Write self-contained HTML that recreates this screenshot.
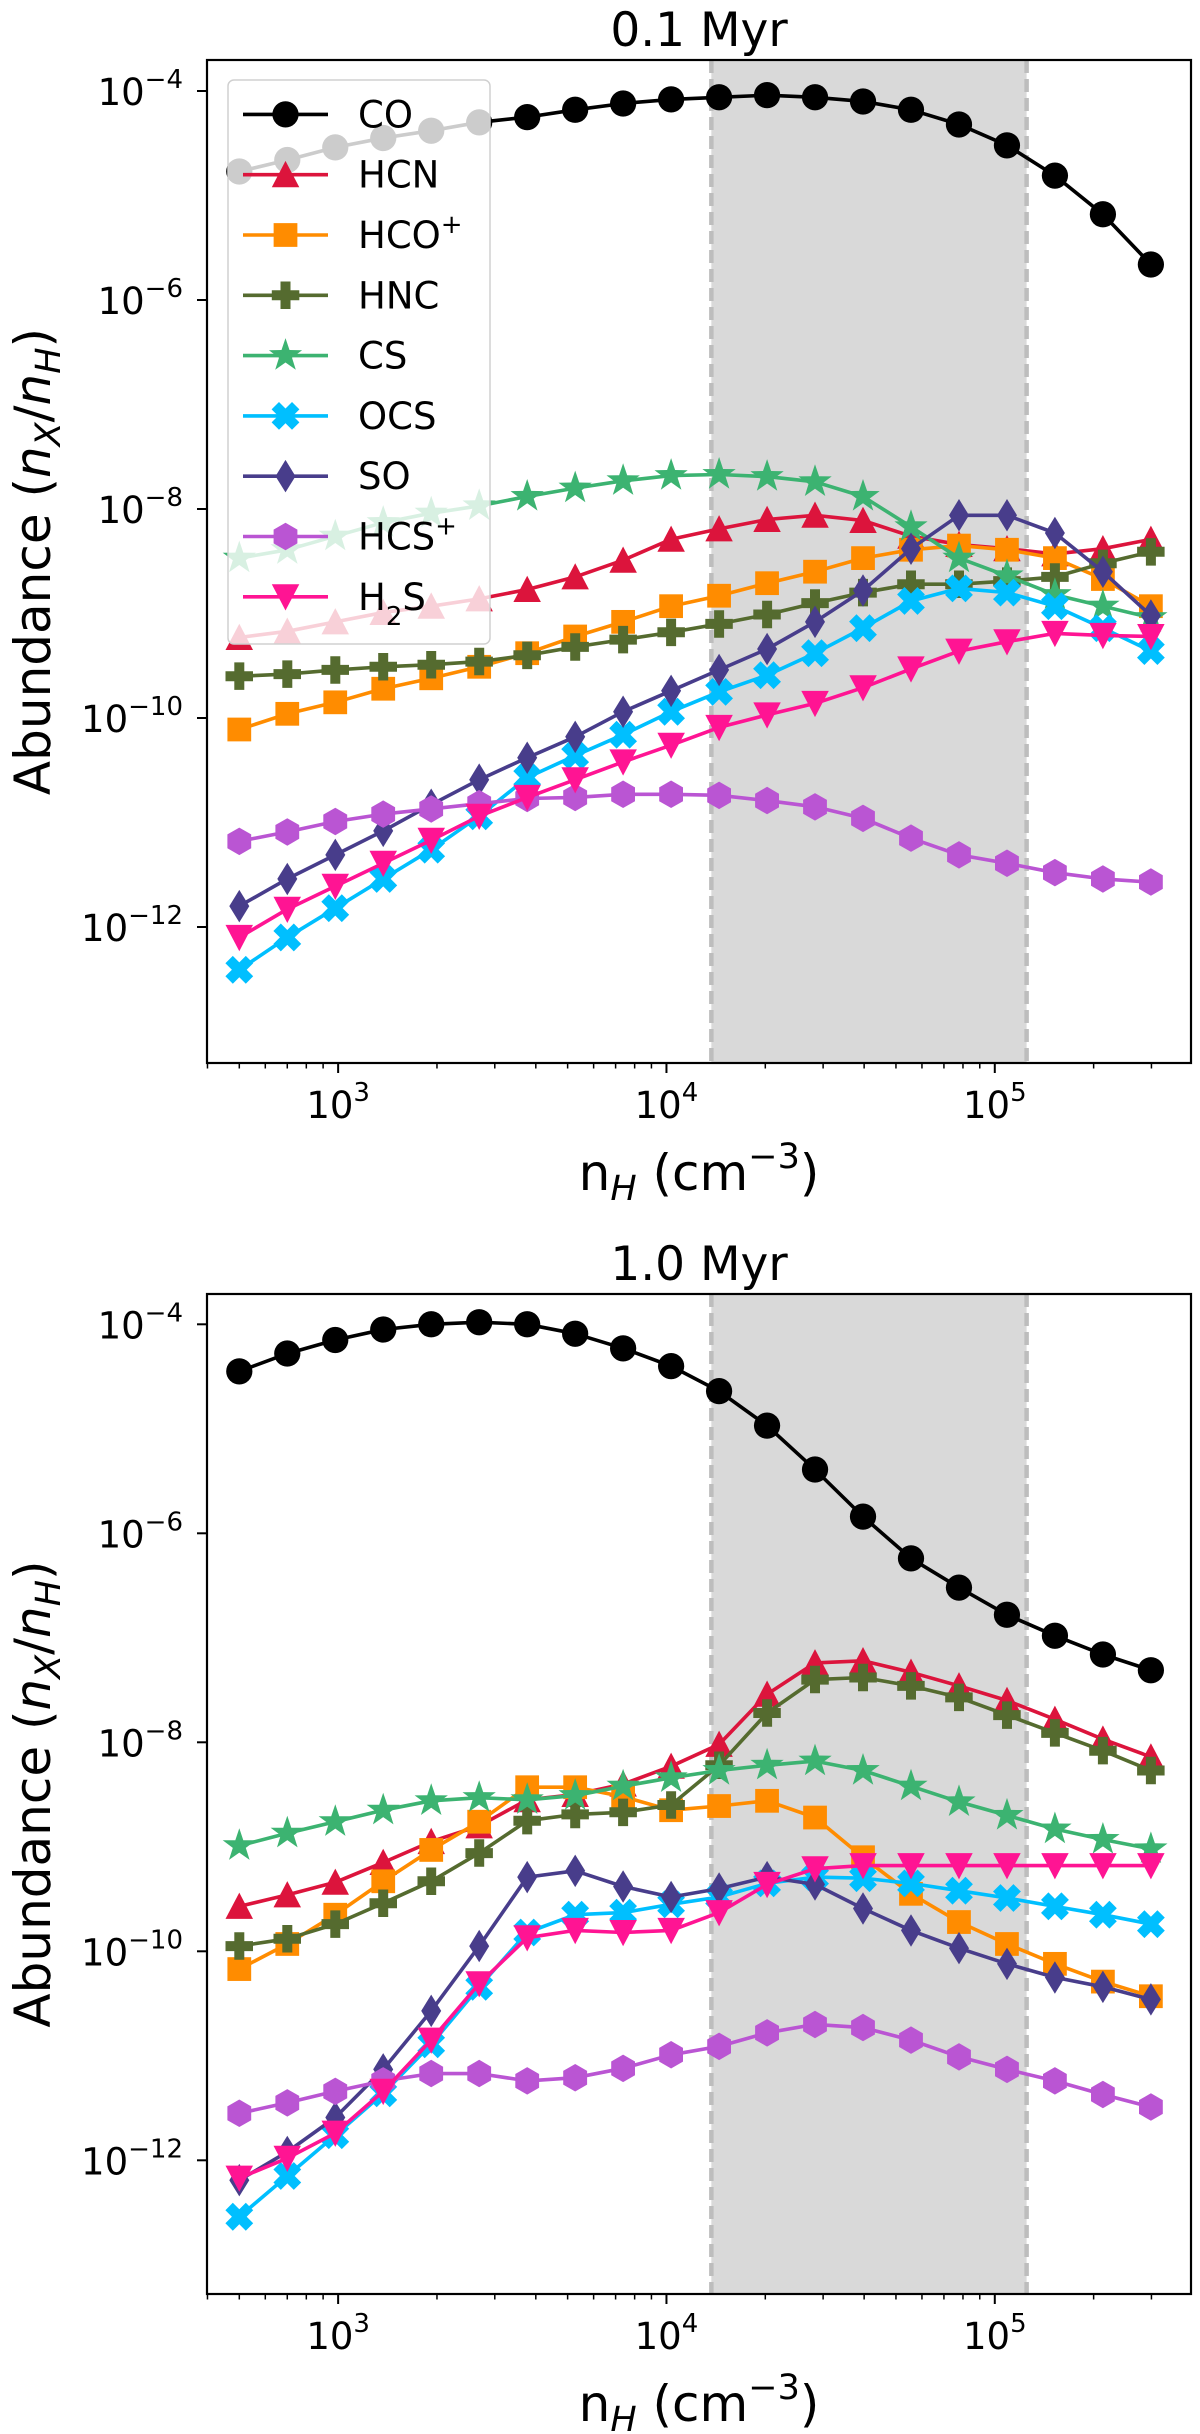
<!DOCTYPE html>
<html><head><meta charset="utf-8"><style>
html,body{margin:0;padding:0;background:#fff}
svg{display:block;font-family:"DejaVu Sans","Liberation Sans",sans-serif}
</style></head><body>
<svg id="fig" width="1200" height="2434" viewBox="0 0 1200 2434" xmlns="http://www.w3.org/2000/svg"></svg>
<script>
// ---- data ----
const nH = [500,700,980,1372,1921,2689,3765,5271,7379,10331,14463,20248,28348,39687,55562,77787,108902,152463,213448,298827];
const shadeRange = [13700,125000];
const yTicksExp = [-4,-6,-8,-10,-12];
const xTicksExp = [3,4,5];
const titles = ["0.1 Myr","1.0 Myr"];
const species = ["CO","HCN","HCO+","HNC","CS","OCS","SO","HCS+","H2S"];
// log10 abundances, panel 1 (0.1 Myr)
const t1_CO  = [-4.77,-4.66,-4.54,-4.45,-4.38,-4.30,-4.25,-4.18,-4.12,-4.08,-4.06,-4.04,-4.06,-4.10,-4.18,-4.32,-4.52,-4.81,-5.18,-5.66];
const t1_HCN = [-9.23,-9.17,-9.08,-8.99,-8.93,-8.86,-8.77,-8.65,-8.49,-8.29,-8.19,-8.10,-8.06,-8.11,-8.26,-8.34,-8.38,-8.43,-8.38,-8.29];
const t1_HCOp= [-10.11,-9.96,-9.85,-9.72,-9.62,-9.51,-9.38,-9.22,-9.08,-8.93,-8.83,-8.71,-8.60,-8.47,-8.39,-8.35,-8.39,-8.47,-8.67,-8.93];
const t1_HNC = [-9.60,-9.58,-9.54,-9.51,-9.49,-9.46,-9.40,-9.32,-9.25,-9.18,-9.10,-9.01,-8.90,-8.80,-8.72,-8.72,-8.69,-8.65,-8.52,-8.41];
const t1_CS  = [-8.47,-8.39,-8.26,-8.13,-8.04,-7.97,-7.88,-7.80,-7.73,-7.68,-7.67,-7.69,-7.74,-7.88,-8.17,-8.47,-8.64,-8.82,-8.93,-9.04];
const t1_OCS = [-12.41,-12.10,-11.82,-11.54,-11.26,-10.94,-10.57,-10.36,-10.16,-9.94,-9.75,-9.59,-9.38,-9.14,-8.88,-8.76,-8.80,-8.93,-9.14,-9.36];
const t1_SO  = [-11.80,-11.54,-11.31,-11.08,-10.83,-10.59,-10.38,-10.18,-9.94,-9.74,-9.54,-9.34,-9.08,-8.78,-8.38,-8.06,-8.06,-8.23,-8.60,-9.02];
const t1_HCSp= [-11.18,-11.09,-10.99,-10.92,-10.87,-10.82,-10.77,-10.76,-10.73,-10.73,-10.74,-10.79,-10.85,-10.96,-11.15,-11.31,-11.39,-11.48,-11.54,-11.57];
const t1_H2S = [-12.10,-11.83,-11.61,-11.39,-11.17,-10.94,-10.76,-10.59,-10.42,-10.26,-10.09,-9.97,-9.86,-9.71,-9.53,-9.36,-9.27,-9.19,-9.21,-9.22];
// panel 2 (1.0 Myr)
const t2_CO  = [-4.45,-4.28,-4.15,-4.05,-4.00,-3.98,-4.00,-4.09,-4.23,-4.40,-4.64,-4.97,-5.39,-5.84,-6.24,-6.52,-6.78,-6.98,-7.16,-7.31];
const t2_HCN = [-9.57,-9.46,-9.34,-9.15,-8.95,-8.80,-8.55,-8.50,-8.40,-8.23,-8.02,-7.54,-7.24,-7.22,-7.33,-7.46,-7.60,-7.78,-7.97,-8.14];
const t2_HCOp= [-10.17,-9.93,-9.65,-9.33,-9.03,-8.76,-8.43,-8.43,-8.52,-8.65,-8.61,-8.56,-8.72,-9.10,-9.45,-9.72,-9.93,-10.12,-10.29,-10.43];
const t2_HNC = [-9.95,-9.88,-9.74,-9.54,-9.33,-9.06,-8.75,-8.69,-8.67,-8.60,-8.22,-7.72,-7.40,-7.38,-7.46,-7.57,-7.74,-7.91,-8.08,-8.27];
const t2_CS  = [-8.99,-8.87,-8.76,-8.65,-8.56,-8.53,-8.55,-8.51,-8.42,-8.34,-8.27,-8.22,-8.18,-8.27,-8.42,-8.57,-8.70,-8.83,-8.93,-9.02];
const t2_OCS = [-12.54,-12.15,-11.76,-11.36,-10.89,-10.34,-9.82,-9.65,-9.63,-9.55,-9.48,-9.35,-9.29,-9.30,-9.35,-9.42,-9.49,-9.57,-9.65,-9.74];
const t2_SO  = [-12.19,-11.92,-11.59,-11.13,-10.57,-9.95,-9.29,-9.23,-9.38,-9.48,-9.40,-9.29,-9.36,-9.59,-9.80,-9.97,-10.12,-10.25,-10.34,-10.46];
const t2_HCSp= [-11.55,-11.45,-11.34,-11.24,-11.17,-11.17,-11.24,-11.21,-11.12,-10.99,-10.91,-10.78,-10.70,-10.73,-10.85,-11.01,-11.13,-11.24,-11.37,-11.49];
const t2_H2S = [-12.17,-11.98,-11.74,-11.34,-10.85,-10.31,-9.87,-9.80,-9.82,-9.80,-9.63,-9.36,-9.21,-9.18,-9.18,-9.18,-9.18,-9.18,-9.18,-9.18];

const panel1 = [t1_CO,t1_HCN,t1_HCOp,t1_HNC,t1_CS,t1_OCS,t1_SO,t1_HCSp,t1_H2S];
const panel2 = [t2_CO,t2_HCN,t2_HCOp,t2_HNC,t2_CS,t2_OCS,t2_SO,t2_HCSp,t2_H2S];

const colors = ["#000000","#dc143c","#ff8c00","#556b2f","#3cb371","#00bfff","#483d8b","#ba55d3","#ff1493"];
const markers = ["o","^","s","P","*","X","d","h","v"];
const legendHTML = ["CO","HCN","HCO<tspan baseline-shift=\"super\" font-size=\"26\">+</tspan>","HNC","CS","OCS","SO","HCS<tspan baseline-shift=\"super\" font-size=\"26\">+</tspan>","H<tspan baseline-shift=\"sub\" font-size=\"26\">2</tspan>S"];

const NS="http://www.w3.org/2000/svg";
const svg=document.getElementById('fig');
const AX_L=207, AX_R=1191;
const XMIN=2.6006, XMAX=5.5976;
const MS=1.25;
function xs(v){return AX_L+(Math.log10(v)-XMIN)*(AX_R-AX_L)/(XMAX-XMIN);}
function el(tag,attrs,parent){const e=document.createElementNS(NS,tag);for(const k in attrs)e.setAttribute(k,attrs[k]);(parent||svg).appendChild(e);return e;}

function markerShape(m,cx,cy,color,parent){
  let e;
  const pts=a=>a.map(p=>(cx+p[0]*MS).toFixed(1)+","+(cy+p[1]*MS).toFixed(1)).join(" ");
  if(m==="o") e=el('circle',{cx:cx,cy:cy,r:10.5*MS,fill:color},parent);
  else if(m==="^") e=el('polygon',{points:pts([[0,-11],[-11,10],[11,10]]),fill:color},parent);
  else if(m==="v") e=el('polygon',{points:pts([[0,11],[-11,-10],[11,-10]]),fill:color},parent);
  else if(m==="s") e=el('rect',{x:cx-9.5*MS,y:cy-9.5*MS,width:19*MS,height:19*MS,fill:color},parent);
  else if(m==="d") e=el('polygon',{points:pts([[0,-13],[8,0],[0,13],[-8,0]]),fill:color},parent);
  else if(m==="P"||m==="X"){
    const a=11,b=4;
    let p=[[-b,-a],[b,-a],[b,-b],[a,-b],[a,b],[b,b],[b,a],[-b,a],[-b,b],[-a,b],[-a,-b],[-b,-b]];
    if(m==="X"){const c=Math.SQRT1_2;p=p.map(q=>[(q[0]-q[1])*c*1.05,(q[0]+q[1])*c*1.05]);}
    e=el('polygon',{points:pts(p),fill:color},parent);
  } else if(m==="*"){
    const p=[];for(let i=0;i<10;i++){const r=i%2?5.5:14;const t=-Math.PI/2+i*Math.PI/5;p.push([r*Math.cos(t),r*Math.sin(t)]);}
    e=el('polygon',{points:pts(p),fill:color},parent);
  } else if(m==="h"){
    const p=[];for(let i=0;i<6;i++){const t=-Math.PI/2+i*Math.PI/3;p.push([11*Math.cos(t),11*Math.sin(t)]);}
    e=el('polygon',{points:pts(p),fill:color},parent);
  }
  return e;
}

function drawPanel(idx, top, bottom, y4, data, withLegend){
  const DEC=104.5;
  const ys=l=>y4+(-4-l)*DEC;
  const g=el('g',{});
  
  
  const t=el('text',{x:(AX_L+AX_R)/2,y:top-14,'text-anchor':'middle','font-size':47,fill:'#000'},g);
  t.textContent=titles[idx];
  
  
  const x0=xs(shadeRange[0]), x1=xs(shadeRange[1]);
  const sh=el('rect',{x:x0,y:top,width:x1-x0,height:bottom-top,fill:'#d9d9d9'},g);
  
  
  [x0,x1].forEach(xx=>{
    const dl=el('line',{x1:xx,y1:top,x2:xx,y2:bottom,stroke:'#bdbdbd','stroke-width':4.5,'stroke-dasharray':'13,6'},g);
    
    
  });
  data.forEach((arr,si)=>{
    const sg=el('g',{},g);
    
    
    const d=arr.map((v,i)=>(i?'L':'M')+xs(nH[i]).toFixed(1)+','+ys(v).toFixed(1)).join(' ');
    const ln=el('path',{d:d,fill:'none',stroke:colors[si],'stroke-width':3.6,'stroke-linejoin':'round'},sg);
    
    
    arr.forEach((v,i)=>{
      const mk=markerShape(markers[si],xs(nH[i]),ys(v),colors[si],sg);
      
      
    });
  });
  const fr=el('rect',{x:AX_L,y:top,width:AX_R-AX_L,height:bottom-top,fill:'none',stroke:'#000','stroke-width':2.2},g);
  
  
  yTicksExp.forEach(e=>{
    const yy=ys(e);
    el('line',{x1:AX_L-10,y1:yy,x2:AX_L,y2:yy,stroke:'#000','stroke-width':2},g);
    const tx=el('text',{x:183,y:yy+14,'text-anchor':'end','font-size':37},g);
    tx.innerHTML='10<tspan dy="-17" font-size="26">\u2212'+Math.abs(e)+'</tspan>';
    
    
  });
  for(let k=2;k<=5;k++){for(let m=1;m<=9;m++){
    const v=m*Math.pow(10,k);const lx=Math.log10(v);
    if(lx<XMIN-1e-6||lx>XMAX)continue;
    const xx=xs(v);const L=m===1?10:5.5;
    el('line',{x1:xx,y1:bottom,x2:xx,y2:bottom+L,stroke:'#000','stroke-width':m===1?2:1.5},g);
  }}
  xTicksExp.forEach(e=>{
    const xx=xs(Math.pow(10,e));
    const tx=el('text',{x:xx,y:bottom+55,'text-anchor':'middle','font-size':37},g);
    tx.innerHTML='10<tspan dy="-17" font-size="26">'+e+'</tspan>';
    
    
  });
  const xl=el('text',{x:(AX_L+AX_R)/2,y:bottom+127,'text-anchor':'middle','font-size':50},g);
  xl.innerHTML='n<tspan font-style="italic" font-size="35" dy="10">H</tspan><tspan dy="-10"> (cm</tspan><tspan font-size="35" dy="-22">\u22123</tspan><tspan dy="22">)</tspan>';
  
  
  const cy=(top+bottom)/2;
  const yl=el('text',{x:0,y:0,'text-anchor':'middle','font-size':50,transform:'translate(50,'+cy+') rotate(-90)'},g);
  yl.innerHTML='Abundance (<tspan font-style="italic">n</tspan><tspan font-style="italic" font-size="35" dy="10">X</tspan><tspan dy="-10">/</tspan><tspan font-style="italic">n</tspan><tspan font-style="italic" font-size="35" dy="10">H</tspan><tspan dy="-10">)</tspan>';
  
  
  if(withLegend){
    const lg=el('g',{},g);
    
    
    el('rect',{x:228,y:80,width:262,height:564,rx:6,fill:'#fff','fill-opacity':0.8,stroke:'#d0d0d0','stroke-width':1.5},lg);
    species.forEach((s,i)=>{
      const ey=114.4+i*60.3;
      const eg=el('g',{},lg);
      
      
      el('line',{x1:243,y1:ey,x2:328,y2:ey,stroke:colors[i],'stroke-width':3.6},eg);
      markerShape(markers[i],285.5,ey,colors[i],eg);
      const tx=el('text',{x:358,y:ey+13,'font-size':37},eg);
      tx.innerHTML=legendHTML[i];
    });
  }
}
drawPanel(0,60,1063,91,panel1,true);
drawPanel(1,1294,2294,1324.3,panel2,false);
</script>
</body></html>
